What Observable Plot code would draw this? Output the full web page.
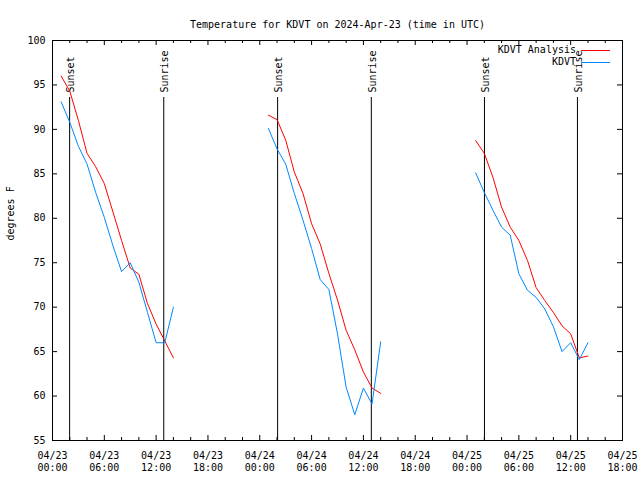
<!DOCTYPE html>
<html>
<head>
<meta charset="utf-8">
<script src="https://cdn.jsdelivr.net/npm/d3@7"></script>
<script src="https://cdn.jsdelivr.net/npm/@observablehq/plot@0.6"></script>
<style>
  html, body { margin: 0; padding: 0; background: #fff; }
</style>
</head>
<body>
<div id="chart"></div>
<script>
// ---- data ----
const titleText = "Temperature for KDVT on 2024-Apr-23 (time in UTC)";
const yLabel = "degrees F";
const seriesNames = ["KDVT Analysis", "KDVT"];

const times1 = ["2024-04-23T01:00Z","2024-04-23T02:00Z","2024-04-23T03:00Z","2024-04-23T04:00Z","2024-04-23T05:00Z","2024-04-23T06:00Z","2024-04-23T07:00Z","2024-04-23T08:00Z","2024-04-23T09:00Z","2024-04-23T10:00Z","2024-04-23T11:00Z","2024-04-23T12:00Z","2024-04-23T13:00Z","2024-04-23T14:00Z"];
const times2 = ["2024-04-24T01:00Z","2024-04-24T02:00Z","2024-04-24T03:00Z","2024-04-24T04:00Z","2024-04-24T05:00Z","2024-04-24T06:00Z","2024-04-24T07:00Z","2024-04-24T08:00Z","2024-04-24T09:00Z","2024-04-24T10:00Z","2024-04-24T11:00Z","2024-04-24T12:00Z","2024-04-24T13:00Z","2024-04-24T14:00Z"];
const times3 = ["2024-04-25T01:00Z","2024-04-25T02:00Z","2024-04-25T03:00Z","2024-04-25T04:00Z","2024-04-25T05:00Z","2024-04-25T06:00Z","2024-04-25T07:00Z","2024-04-25T08:00Z","2024-04-25T09:00Z","2024-04-25T10:00Z","2024-04-25T11:00Z","2024-04-25T12:00Z","2024-04-25T13:00Z","2024-04-25T14:00Z"];

const analysis1 = [96.0, 94.3, 91.0, 87.3, 85.8, 83.9, 80.7, 77.5, 74.4, 73.7, 70.4, 68.1, 66.2, 64.3];
const analysis2 = [91.6, 91.1, 88.8, 85.2, 82.8, 79.4, 77.1, 73.8, 70.8, 67.4, 65.2, 62.7, 60.9, 60.3];
const analysis3 = [88.75, 87.3, 84.6, 81.25, 79.0, 77.5, 75.25, 72.2, 70.75, 69.4, 67.9, 67.0, 64.3, 64.5];

const obs1 = [93.1, 90.8, 88.1, 86.1, 82.9, 80.1, 76.9, 74.0, 75.0, 72.8, 69.4, 66.0, 66.0, 70.0];
const obs2 = [90.1, 87.8, 86.1, 82.8, 79.8, 76.6, 73.1, 72.0, 67.0, 61.0, 57.9, 60.9, 59.1, 66.1];
const obs3 = [85.1, 82.9, 80.9, 79.0, 78.1, 73.75, 71.9, 71.1, 69.8, 67.8, 65.0, 66.0, 64.1, 66.0];

const sunsetTimes = ["2024-04-23T01:59Z","2024-04-24T02:04Z","2024-04-25T02:01Z"];
const sunriseTimes = ["2024-04-23T12:53Z","2024-04-24T12:55Z","2024-04-25T12:47Z"];

const yTicks = [55, 60, 65, 70, 75, 80, 85, 90, 95, 100];
const xTickLabels = ["04/23\n00:00","04/23\n06:00","04/23\n12:00","04/23\n18:00","04/24\n00:00","04/24\n06:00","04/24\n12:00","04/24\n18:00","04/25\n00:00","04/25\n06:00","04/25\n12:00","04/25\n18:00"];
const xStart = "2024-04-23T00:00Z";
const xEnd = "2024-04-25T18:00Z";

// ---- build tables ----
function rows(times, values, series, seg) {
  return times.map((t, i) => ({time: new Date(t), value: values[i], series, seg}));
}
const data = [
  ...rows(times1, analysis1, seriesNames[0], "a1"),
  ...rows(times2, analysis2, seriesNames[0], "a2"),
  ...rows(times3, analysis3, seriesNames[0], "a3"),
  ...rows(times1, obs1, seriesNames[1], "o1"),
  ...rows(times2, obs2, seriesNames[1], "o2"),
  ...rows(times3, obs3, seriesNames[1], "o3")
];
const events = [
  ...sunsetTimes.map(t => ({time: new Date(t), label: "Sunset"})),
  ...sunriseTimes.map(t => ({time: new Date(t), label: "Sunrise"}))
];

const x0 = new Date(xStart), x1 = new Date(xEnd);
const majorTicks = d3.utcHour.every(6).range(x0, new Date(+x1 + 1));
const minorTicks = d3.utcHour.every(2).range(x0, new Date(+x1 + 1)).filter(d => d.getUTCHours() % 6 !== 0);

const colors = {"KDVT Analysis": "#ff0000", "KDVT": "#0088ff"};

const W = 640, H = 480, mL = 52, mR = 18, mT = 40, mB = 40;
const innerW = W - mL - mR, innerH = H - mT - mB;
const font = "'DejaVu Sans Mono', monospace";

const chart = Plot.plot({
  width: W, height: H,
  marginLeft: mL, marginRight: mR, marginTop: mT, marginBottom: mB,
  style: {fontFamily: font, fontSize: "10px", background: "#fff", color: "#000"},
  x: {type: "utc", domain: [x0, x1], axis: null},
  y: {domain: [55, 100], axis: null},
  color: {domain: seriesNames, range: seriesNames.map(s => colors[s])},
  marks: [
    // sunrise / sunset
    Plot.ruleX(events, {x: "time", stroke: "#000", insetTop: 57}),
    Plot.text(events, {x: "time", text: "label", frameAnchor: "top", dy: 52, rotate: -90, textAnchor: "start", lineAnchor: "middle", dx: 1, fill: "#000"}),
    // series
    Plot.line(data, {x: "time", y: "value", z: "seg", stroke: "series", strokeWidth: 1}),
    // x ticks (bottom & top)
    Plot.ruleX(majorTicks, {x: d => d, insetTop: innerH - 5, stroke: "#000"}),
    Plot.ruleX(majorTicks, {x: d => d, insetBottom: innerH - 5, stroke: "#000"}),
    Plot.ruleX(minorTicks, {x: d => d, insetTop: innerH - 3, stroke: "#000"}),
    Plot.ruleX(minorTicks, {x: d => d, insetBottom: innerH - 3, stroke: "#000"}),
    // y ticks (left & right)
    Plot.ruleY(yTicks, {y: d => d, insetRight: innerW - 5, stroke: "#000"}),
    Plot.ruleY(yTicks, {y: d => d, insetLeft: innerW - 5, stroke: "#000"}),
    // tick labels
    Plot.text(majorTicks, {x: d => d, text: (d, i) => xTickLabels[i], frameAnchor: "bottom", dy: 10.5, lineAnchor: "top", lineHeight: 1.16, fill: "#000"}),
    Plot.text(yTicks, {y: d => d, text: d => String(d), frameAnchor: "left", textAnchor: "end", dx: -7, fill: "#000"}),
    // axis label & title
    Plot.text([yLabel], {text: d => d, frameAnchor: "left", dx: -42, rotate: -90, fill: "#000"}),
    Plot.text([titleText], {text: d => d, frameAnchor: "top", dy: -20, fill: "#000"}),
    Plot.frame({stroke: "#000"})
  ]
});

// legend (key in the top right, gnuplot style)
const svg = d3.select(chart);
seriesNames.forEach((name, i) => {
  const yy = 49.5 + i * 12.5;
  svg.append("text")
    .attr("x", 576).attr("y", yy).attr("dy", "0.32em")
    .attr("text-anchor", "end")
    .attr("font-family", font).attr("font-size", 10).attr("fill", "#000")
    .text(name);
  svg.append("line")
    .attr("x1", 581).attr("x2", 610)
    .attr("y1", Math.round(yy) + 0.5).attr("y2", Math.round(yy) + 0.5)
    .attr("stroke", colors[name]).attr("stroke-width", 1);
});

document.getElementById("chart").appendChild(chart);
</script>
</body>
</html>
